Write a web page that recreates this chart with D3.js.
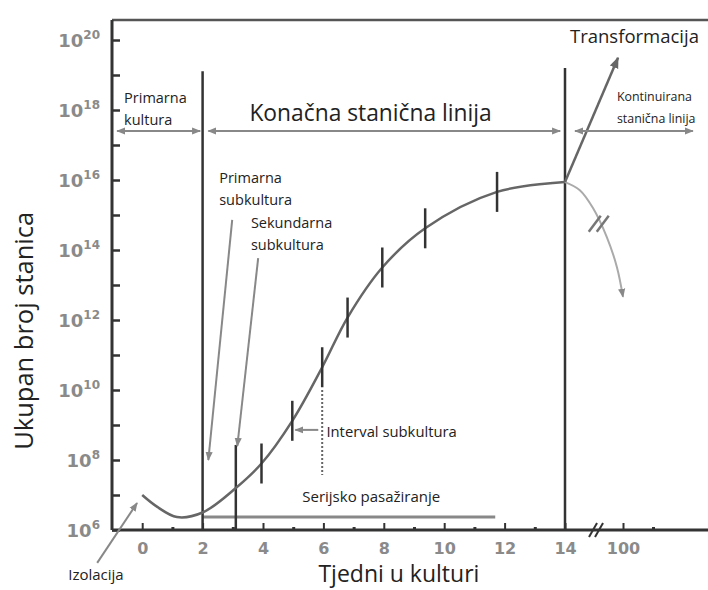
<!DOCTYPE html>
<html>
<head>
<meta charset="utf-8">
<script src="https://cdn.jsdelivr.net/npm/d3@7"></script>
<style>
  body { margin: 0; background: #fff; }
  text { font-family: 'Open Sans', Lato, sans-serif; }
  .tick text { font-family: 'DejaVu Sans', sans-serif; font-weight: bold; fill: #8a8a8a; }
</style>
</head>
<body>
<div id="chart"></div>
<script>
// growth curve: weeks in culture and log10 of total cell count
const growthWeeks = [0, 0.5, 1.15, 2, 3.1, 3.95, 4.97, 5.96, 6.8, 7.95, 9.37, 11.75, 14]
const growthLog = [7.0, 6.66, 6.37, 6.5, 7.2, 7.9, 9.12, 10.65, 12.07, 13.5, 14.62, 15.66, 15.94]

// subculture marks on the curve
const subWeeks = [3.95, 4.97, 5.96, 6.8, 7.95, 9.37, 11.75]
const subLog = [7.9, 9.12, 10.65, 12.07, 13.5, 14.62, 15.66]

// senescence after week 14 (drawn past the axis break)
const declineWeeks = [14, 36, 55.5, 76, 91, 100]
const declineLog = [15.94, 15.71, 15.2, 14.37, 13.51, 12.66]

// transformation line
const transWeeks = [14, 92.6]
const transLog = [15.94, 19.49]

// axis ticks
const xMajor = [0, 2, 4, 6, 8, 10, 12, 14, 100]
const xMajorLabels = ['0', '2', '4', '6', '8', '10', '12', '14', '100']
const xMinor = [1, 3, 5, 7, 9, 11, 13, 101]
const yExp = [6, 7, 8, 9, 10, 11, 12, 13, 14, 15, 16, 17, 18, 19, 20]
const yLabelExp = [6, 8, 10, 12, 14, 16, 18, 20]

const width = 708
const height = 590

const svg = d3.select('#chart').append('svg')
  .attr('width', width)
  .attr('height', height)

// piecewise x: weeks 0-14, then a break and week 100
const x = d3.scaleLinear().domain([-1, 14, 100, 101]).range([112, 565, 623, 653])
const y = d3.scaleLog().domain([1e6, 1e20]).range([530, 40])
const px = w => x(w)
const py = l => y(Math.pow(10, l))

const dark = '#333'
const grey = '#888'

svg.append('defs').selectAll('marker')
  .data([['arr', grey], ['arrDark', '#666']])
  .enter().append('marker')
  .attr('id', d => d[0])
  .attr('viewBox', '0 0 10 10')
  .attr('refX', 9).attr('refY', 5)
  .attr('markerWidth', 4.5).attr('markerHeight', 4.5)
  .attr('orient', 'auto-start-reverse')
  .append('path')
  .attr('d', 'M0,1 L10,5 L0,9 z')
  .attr('fill', d => d[1])

// top frame line
svg.append('line')
  .attr('x1', px(-1)).attr('x2', width)
  .attr('y1', py(20.57)).attr('y2', py(20.57))
  .attr('stroke', '#555').attr('stroke-width', 2.5)

// axes
const yAxis = svg.append('g')
  .attr('transform', `translate(${px(-1)},0)`)
  .call(d3.axisLeft(y).tickValues(yExp.map(e => Math.pow(10, e))).tickSizeInner(-8).tickSizeOuter(0).tickFormat(''))
yAxis.select('.domain').remove()
yAxis.selectAll('.tick line').attr('stroke', dark).attr('stroke-width', 2.5)

const xAxis = svg.append('g')
  .attr('transform', `translate(0,${py(6)})`)
  .call(d3.axisBottom(x).tickValues(xMajor).tickSizeInner(-7).tickSizeOuter(0).tickPadding(13)
    .tickFormat((d, i) => xMajorLabels[i]))
xAxis.select('.domain').remove()
xAxis.selectAll('.tick line').attr('stroke', dark).attr('stroke-width', 2)
xAxis.selectAll('.tick text').attr('font-size', 16)

const xAxisMinor = svg.append('g')
  .attr('transform', `translate(0,${py(6)})`)
  .call(d3.axisBottom(x).tickValues(xMinor).tickSizeInner(-3).tickSizeOuter(0).tickFormat(''))
xAxisMinor.select('.domain').remove()
xAxisMinor.selectAll('.tick line').attr('stroke', dark).attr('stroke-width', 3)

svg.append('line')
  .attr('x1', px(-1)).attr('x2', px(-1))
  .attr('y1', py(6)).attr('y2', py(20.57))
  .attr('stroke', dark).attr('stroke-width', 3)
svg.append('line')
  .attr('x1', px(-1)).attr('x2', width)
  .attr('y1', py(6)).attr('y2', py(6))
  .attr('stroke', dark).attr('stroke-width', 3)

// axis break on x
const bx = px(60), by = py(6)
;[-3, 3].forEach(o => {
  svg.append('line')
    .attr('x1', bx + o - 4).attr('y1', by + 7)
    .attr('x2', bx + o + 4).attr('y2', by - 7)
    .attr('stroke', dark).attr('stroke-width', 2)
})

// y tick labels with superscript exponent
const yLab = svg.append('g').selectAll('text')
  .data(yLabelExp)
  .enter().append('text')
  .attr('x', 100)
  .attr('y', d => py(d) + 7)
  .attr('text-anchor', 'end')
  .style('font-family', "'DejaVu Sans', sans-serif")
  .style('font-weight', 'bold')
  .attr('fill', '#8a8a8a')
  .attr('font-size', 18)
yLab.append('tspan').text('10')
yLab.append('tspan').attr('dy', -8).attr('font-size', 12).text(d => d)

// axis titles
svg.append('text')
  .attr('transform', `translate(33,${py(11.69)}) rotate(-90)`)
  .attr('text-anchor', 'middle')
  .attr('font-size', 25.5)
  .attr('fill', '#222')
  .text('Ukupan broj stanica')

svg.append('text')
  .attr('x', px(8.5)).attr('y', 582)
  .attr('text-anchor', 'middle')
  .attr('font-size', 23)
  .attr('fill', '#222')
  .text('Tjedni u kulturi')

// serial passaging line
svg.append('line')
  .attr('x1', px(2)).attr('x2', px(11.69))
  .attr('y1', py(6.37)).attr('y2', py(6.37))
  .attr('stroke', grey).attr('stroke-width', 3)

// vertical boundary lines
const vLines = [[2, 19.11], [14, 19.2], [3.1, 8.43]]
svg.append('g').selectAll('line')
  .data(vLines)
  .enter().append('line')
  .attr('x1', d => px(d[0])).attr('x2', d => px(d[0]))
  .attr('y1', py(6)).attr('y2', d => py(d[1]))
  .attr('stroke', dark).attr('stroke-width', 2.5)

// growth curve
const line = d3.line().curve(d3.curveCatmullRom)
svg.append('path')
  .attr('d', line(growthWeeks.map((w, i) => [px(w), py(growthLog[i])])))
  .attr('fill', 'none').attr('stroke', '#666').attr('stroke-width', 2.5)

svg.append('path')
  .attr('d', line(declineWeeks.map((w, i) => [px(w), py(declineLog[i])])))
  .attr('fill', 'none').attr('stroke', '#aaa').attr('stroke-width', 2)
  .attr('marker-end', 'url(#arr)')

// break on decline curve
const dx = px(64), dy = py(14.75)
;[-4, 4].forEach(o => {
  svg.append('line')
    .attr('x1', dx + o - 6).attr('y1', dy + 8)
    .attr('x2', dx + o + 6).attr('y2', dy - 8)
    .attr('stroke', '#777').attr('stroke-width', 2.5)
})

svg.append('line')
  .attr('x1', px(transWeeks[0])).attr('y1', py(transLog[0]))
  .attr('x2', px(transWeeks[1])).attr('y2', py(transLog[1]))
  .attr('stroke', '#666').attr('stroke-width', 2.5)
  .attr('marker-end', 'url(#arrDark)')

// subculture marks
svg.append('g').selectAll('line')
  .data(subWeeks)
  .enter().append('line')
  .attr('x1', d => px(d)).attr('x2', d => px(d))
  .attr('y1', (d, i) => py(subLog[i]) - 20)
  .attr('y2', (d, i) => py(subLog[i]) + 20)
  .attr('stroke', dark).attr('stroke-width', 2.5)

// dotted interval line
svg.append('line')
  .attr('x1', px(5.96)).attr('x2', px(5.96))
  .attr('y1', py(10)).attr('y2', py(7.57))
  .attr('stroke', '#666').attr('stroke-width', 2).attr('stroke-dasharray', '2,2')

// phase arrows
const arrows = [
  [-0.83, 17.4, 1.92, 17.4, true],
  [2.19, 17.4, 13.84, 17.4, true],
  [28.8, 17.4, 102.33, 17.4, true],
  [2.98, 14.86, 2.19, 8.0, false],
  [3.84, 13.77, 3.15, 8.4, false],
  [-1.49, 5.06, -0.17, 6.77, false],
  [5.83, 8.86, 5.07, 8.86, false]
]
svg.append('g').selectAll('line')
  .data(arrows)
  .enter().append('line')
  .attr('x1', d => px(d[0])).attr('y1', d => py(d[1]))
  .attr('x2', d => px(d[2])).attr('y2', d => py(d[3]))
  .attr('stroke', grey).attr('stroke-width', 2)
  .attr('marker-end', 'url(#arr)')
  .attr('marker-start', d => d[4] ? 'url(#arr)' : null)

// labels
const labels = [
  [['Primarna', 'kultura'], -0.6, 103, 14.5],
  [['Konačna stanična linija'], 3.55, 121, 22.8],
  [['Transformacija'], 21.4, 43, 18.5],
  [['Kontinuirana', 'stanična linija'], 91, 101, 12.4],
  [['Primarna', 'subkultura'], 2.55, 183, 14.5],
  [['Sekundarna', 'subkultura'], 3.6, 228, 14.5],
  [['Interval subkultura'], 6.1, 437, 14.8],
  [['Serijsko pasažiranje'], 5.3, 502, 15],
  [['Izolacija'], -2.45, 580, 15]
]
labels.forEach(l => {
  const t = svg.append('text')
    .attr('x', px(l[1])).attr('y', l[2])
    .attr('font-size', l[3])
    .attr('fill', '#222')
  l[0].forEach((s, i) => {
    t.append('tspan').attr('x', px(l[1])).attr('dy', i ? 22 : 0).text(s)
  })
})
</script>
</body>
</html>
